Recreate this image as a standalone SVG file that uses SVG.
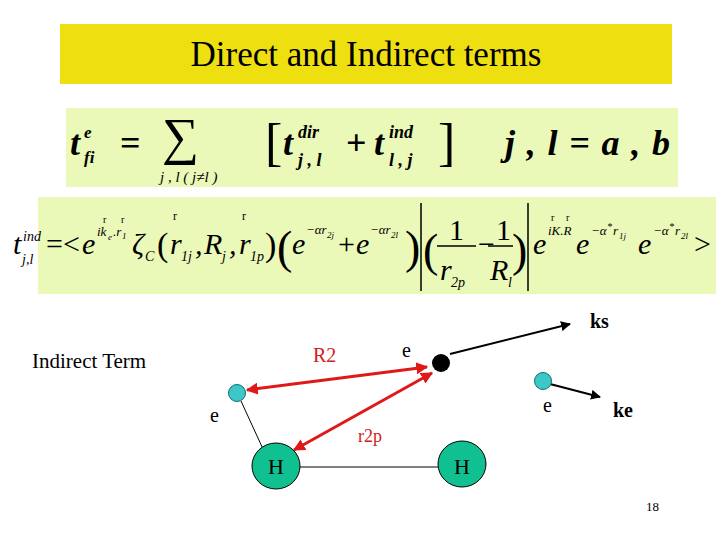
<svg xmlns="http://www.w3.org/2000/svg" width="720" height="540" viewBox="0 0 720 540">
<defs>
<style>
.s{font-family:"Liberation Serif","DejaVu Serif",serif}
.m{font-family:"Liberation Serif","DejaVu Serif",serif;font-style:italic}
.n{font-style:normal}
.b{font-weight:bold}
.red{stroke:#e01818;stroke-width:3;fill:none}
.blk{stroke:#000;stroke-width:2;fill:none}
.cy{fill:#3cc8c8;stroke:#107070;stroke-width:1}
.h{fill:#10c090;stroke:#000;stroke-width:1}
</style>
<marker id="ar" viewBox="0 0 10 10" refX="9" refY="5" markerWidth="4" markerHeight="4" orient="auto-start-reverse"><path d="M0,0L10,5L0,10z" fill="#e01818"/></marker>
<marker id="ab" viewBox="0 0 10 10" refX="9" refY="5" markerWidth="5" markerHeight="5" orient="auto"><path d="M0,0L10,5L0,10z" fill="#000"/></marker>
</defs>
<rect width="720" height="540" fill="#fff"/>
<g id="title">
<rect x="60" y="24" width="612" height="60" fill="#eee010"/>
<text x="366" y="66" text-anchor="middle" class="s" font-size="35">Direct and Indirect terms</text>
</g>
<g id="eq1">
<rect x="66" y="108" width="612" height="79" fill="#eaf8b8"/>
<g class="m b" font-size="36">
<text x="70" y="155">t</text>
<text x="84" y="138" font-size="17">e</text>
<text x="84" y="163" font-size="17">fi</text>
<text x="120" y="155" class="n">=</text>
<text x="162" y="154" class="n" font-size="52" font-weight="normal">∑</text>
<text x="160" y="182" font-size="15" font-weight="normal">j , l ( j≠l )</text>
<text x="265" y="160" class="n" font-size="52" font-weight="normal">[</text>
<text x="283" y="155">t</text>
<text x="298" y="138" font-size="18">dir</text>
<text x="298" y="166" font-size="18">j , l</text>
<text x="346" y="155" class="n">+</text>
<text x="374" y="155">t</text>
<text x="389" y="138" font-size="18">ind</text>
<text x="389" y="166" font-size="18">l , j</text>
<text x="438" y="160" class="n" font-size="52" font-weight="normal">]</text>
<text x="505" y="155" textLength="165">j , l = a , b</text>
</g>
</g>
<g id="eq2">
<rect x="38" y="197" width="678" height="97" fill="#eaf8b8"/>
<g class="m" font-size="30">
<text x="13" y="254">t</text>
<text x="23" y="241" font-size="14">ind</text>
<text x="22" y="264" font-size="14">j,l</text>
<text x="46" y="254" class="n">=&lt;</text>
<text x="82" y="254">e</text>
<text x="97" y="236" font-size="13">ik</text><text x="108" y="240" font-size="9">e</text><text x="113" y="236" font-size="13">.r</text><text x="122" y="239" font-size="9">1</text>
<text x="103" y="223" font-size="10" class="n">r</text><text x="121" y="223" font-size="10" class="n">r</text>
<text x="132" y="254">ζ</text><text x="145" y="261" font-size="14">C</text>
<text x="157" y="256" class="n" font-size="34">(</text>
<text x="170" y="254">r</text><text x="181" y="261" font-size="14">1j</text><text x="173" y="220" font-size="12" class="n">r</text>
<text x="195" y="254">,</text>
<text x="204" y="254">R</text><text x="222" y="261" font-size="14">j</text>
<text x="229" y="254">,</text>
<text x="239" y="254">r</text><text x="250" y="261" font-size="14">1p</text><text x="242" y="220" font-size="12" class="n">r</text>
<text x="265" y="256" class="n" font-size="34">)</text>
<text x="277" y="263" class="n" font-size="46">(</text>
<text x="292" y="254">e</text><text x="306" y="234" font-size="13">−αr</text><text x="327" y="238" font-size="9">2j</text>
<text x="338" y="254" class="n">+</text>
<text x="356" y="254">e</text><text x="370" y="234" font-size="13">−αr</text><text x="391" y="238" font-size="9">2l</text>
<text x="405" y="263" class="n" font-size="46">)</text>
<text x="423" y="266" class="n" font-size="46">(</text>
<text x="449" y="240" class="n">1</text>
<text x="440" y="280">r</text><text x="451" y="287" font-size="14">2p</text>
<text x="478" y="254" class="n">−</text>
<text x="496" y="240" class="n">1</text>
<text x="490" y="280">R</text><text x="508" y="287" font-size="14">l</text>
<text x="512" y="266" class="n" font-size="46">)</text>
<text x="533" y="254">e</text><text x="548" y="235" font-size="13">iK.R</text>
<text x="551" y="221" font-size="10" class="n">r</text><text x="566" y="221" font-size="10" class="n">r</text>
<text x="576" y="254">e</text><text x="591" y="235" font-size="13">−α</text><text x="607" y="230" font-size="10">*</text><text x="613" y="235" font-size="13">r</text><text x="619" y="239" font-size="9">1j</text>
<text x="638" y="254">e</text><text x="653" y="235" font-size="13">−α</text><text x="669" y="230" font-size="10">*</text><text x="675" y="235" font-size="13">r</text><text x="681" y="239" font-size="9">2l</text>
<text x="694" y="254" class="n">&gt;</text>
</g>
<line x1="437" y1="246" x2="476" y2="246" stroke="#000" stroke-width="1.5"/>
<line x1="488" y1="246" x2="513" y2="246" stroke="#000" stroke-width="1.5"/>
<line x1="421" y1="203" x2="421" y2="291" stroke="#000" stroke-width="1.5"/>
<line x1="528" y1="203" x2="528" y2="291" stroke="#000" stroke-width="1.5"/>
</g>
<g id="diagram">
<text x="32" y="368" class="s" font-size="21">Indirect Term</text>
<g id="connectors">
<line x1="241" y1="401" x2="263" y2="449" stroke="#000" stroke-width="1"/>
<line x1="300" y1="467" x2="438" y2="467" stroke="#000" stroke-width="1"/>
<line x1="247" y1="390" x2="427" y2="367" class="red" marker-start="url(#ar)" marker-end="url(#ar)"/>
<line x1="432" y1="373" x2="294" y2="450" class="red" marker-start="url(#ar)" marker-end="url(#ar)"/>
<line x1="450" y1="354" x2="570" y2="324" class="blk" marker-end="url(#ab)"/>
<line x1="550" y1="384" x2="600" y2="397" class="blk" marker-end="url(#ab)"/>
</g>
<g id="e-black"><circle cx="441" cy="363" r="9" fill="#000"/><text x="402" y="357" class="s" font-size="20">e</text></g>
<g id="e-left"><circle cx="237" cy="393" r="8.5" class="cy"/><text x="210" y="422" class="s" font-size="20">e</text></g>
<g id="e-right"><circle cx="543" cy="381" r="8.5" class="cy"/><text x="543" y="412" class="s" font-size="20">e</text></g>
<g id="H1"><ellipse cx="276" cy="466" rx="24" ry="23" class="h"/><text x="276" y="474" text-anchor="middle" class="s" font-size="22">H</text></g>
<g id="H2"><ellipse cx="462" cy="464" rx="24" ry="23" class="h"/><text x="462" y="474" text-anchor="middle" class="s" font-size="22">H</text></g>
<text x="313" y="362" class="s" font-size="20" fill="#d02020">R2</text>
<text x="358" y="442" class="s" font-size="18" fill="#d02020">r2p</text>
<text x="590" y="328" class="s b" font-size="20">ks</text>
<text x="613" y="417" class="s b" font-size="20">ke</text>
</g>
<text x="646" y="511" class="s" font-size="13">18</text>
</svg>
